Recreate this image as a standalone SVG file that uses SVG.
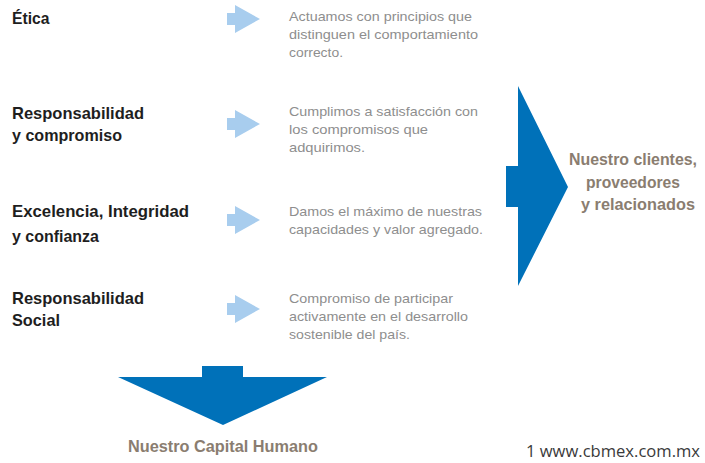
<svg xmlns="http://www.w3.org/2000/svg" width="705" height="463" viewBox="0 0 705 463">
<style>
.lbl{font-family:"Liberation Sans Narrow","Liberation Sans",Arial,sans-serif;font-weight:bold;font-size:17px;fill:#1e1e1e}
.desc{font-family:"Liberation Sans Narrow","Liberation Sans",Arial,sans-serif;font-size:13.5px;fill:#8e8e8e}
.brown{font-family:"Liberation Sans Narrow","Liberation Sans",Arial,sans-serif;font-weight:bold;font-size:17px;fill:#8a7d70}
.foot{font-family:"Open Sans","Liberation Sans",sans-serif;font-size:16px;fill:#3a3a3a}
.small{fill:#a8cdee}
.big{fill:#0071b9}
</style>
<rect width="705" height="463" fill="#ffffff"/>
<g id="connectors">
<polygon class="small" points="227,13 235,13 235,5 260,19 235,33 235,25 227,25"/>
<polygon class="small" points="227,118 235,118 235,110 260,124 235,138 235,130 227,130"/>
<polygon class="small" points="227,214 235,214 235,206 260,220 235,234 235,226 227,226"/>
<polygon class="small" points="227,303 235,303 235,295 260,309 235,323 235,315 227,315"/>
<polygon class="big" points="506,166 518,166 518,86 568,187 518,286 518,207 506,207"/>
<polygon class="big" points="202,366 243,366 243,377 327,377 223,425 118,377 202,377"/>
</g>
<g id="etica">
<text class="lbl" x="12" y="24" textLength="37.5" lengthAdjust="spacingAndGlyphs">Ética</text>
</g>
<g id="responsabilidad">
<text class="lbl" x="12" y="118.5" textLength="132" lengthAdjust="spacingAndGlyphs">Responsabilidad</text>
<text class="lbl" x="12" y="141" textLength="110" lengthAdjust="spacingAndGlyphs">y compromiso</text>
</g>
<g id="excelencia">
<text class="lbl" x="12" y="217" textLength="177" lengthAdjust="spacingAndGlyphs">Excelencia, Integridad</text>
<text class="lbl" x="12" y="241.5" textLength="87" lengthAdjust="spacingAndGlyphs">y confianza</text>
</g>
<g id="social">
<text class="lbl" x="12" y="304" textLength="132" lengthAdjust="spacingAndGlyphs">Responsabilidad</text>
<text class="lbl" x="12" y="326" textLength="48" lengthAdjust="spacingAndGlyphs">Social</text>
</g>
<g id="desc-etica">
<text class="desc" x="289" y="21" textLength="183" lengthAdjust="spacingAndGlyphs">Actuamos con principios que</text>
<text class="desc" x="289" y="39" textLength="189" lengthAdjust="spacingAndGlyphs">distinguen el comportamiento</text>
<text class="desc" x="289" y="57" textLength="54" lengthAdjust="spacingAndGlyphs">correcto.</text>
</g>
<g id="desc-responsabilidad">
<text class="desc" x="289" y="116" textLength="189" lengthAdjust="spacingAndGlyphs">Cumplimos a satisfacción con</text>
<text class="desc" x="289" y="134" textLength="139" lengthAdjust="spacingAndGlyphs">los compromisos que</text>
<text class="desc" x="289" y="152" textLength="76" lengthAdjust="spacingAndGlyphs">adquirimos.</text>
</g>
<g id="desc-excelencia">
<text class="desc" x="289" y="216" textLength="193" lengthAdjust="spacingAndGlyphs">Damos el máximo de nuestras</text>
<text class="desc" x="289" y="234" textLength="194" lengthAdjust="spacingAndGlyphs">capacidades y valor agregado.</text>
</g>
<g id="desc-social">
<text class="desc" x="289" y="303" textLength="164" lengthAdjust="spacingAndGlyphs">Compromiso de participar</text>
<text class="desc" x="289" y="321" textLength="179" lengthAdjust="spacingAndGlyphs">activamente en el desarrollo</text>
<text class="desc" x="289" y="339" textLength="121" lengthAdjust="spacingAndGlyphs">sostenible del país.</text>
</g>
<g id="clientes">
<text class="brown" x="569" y="165" textLength="128" lengthAdjust="spacingAndGlyphs">Nuestro clientes,</text>
<text class="brown" x="586" y="188" textLength="94" lengthAdjust="spacingAndGlyphs">proveedores</text>
<text class="brown" x="581" y="210" textLength="114" lengthAdjust="spacingAndGlyphs">y relacionados</text>
</g>
<g id="capital-humano">
<text class="brown" x="128" y="452" textLength="190" lengthAdjust="spacingAndGlyphs">Nuestro Capital Humano</text>
</g>
<g id="footer">
<text class="foot" x="526" y="457" textLength="174" lengthAdjust="spacingAndGlyphs">1 www.cbmex.com.mx</text>
</g>
</svg>
